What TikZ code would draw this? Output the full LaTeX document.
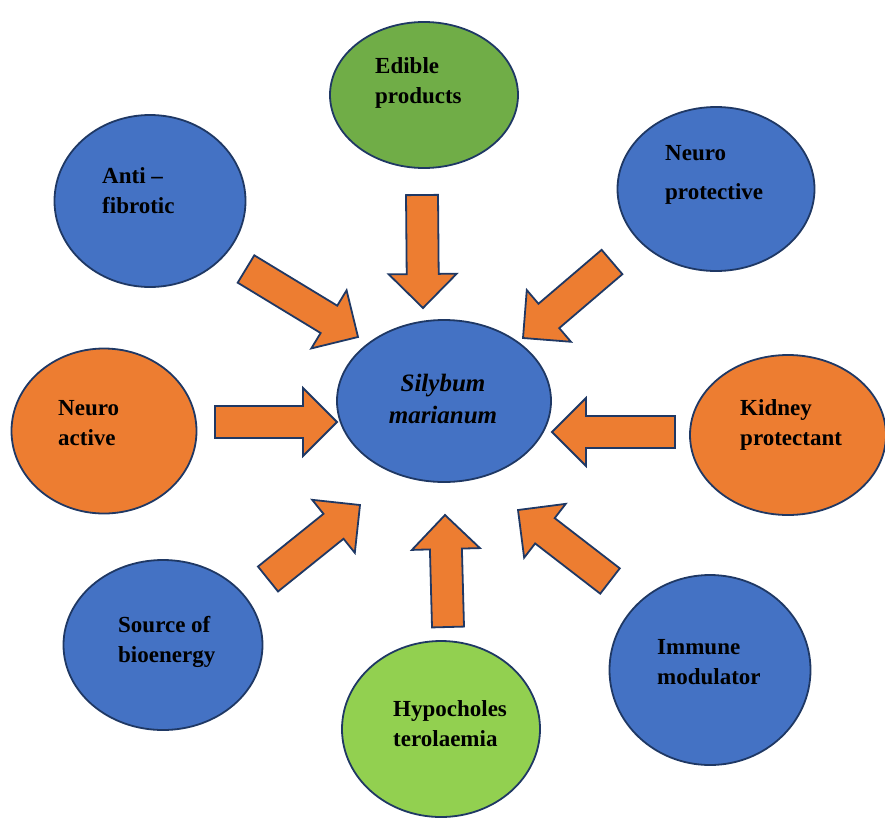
\documentclass[tikz,border=0pt]{standalone}
\usepackage{fontspec}
\setmainfont{Liberation Serif}
\usetikzlibrary{shapes.geometric,calc}
\definecolor{cblue}{HTML}{4472C4}
\definecolor{corange}{HTML}{ED7D31}
\definecolor{cgreen}{HTML}{70AD47}
\definecolor{clime}{HTML}{92D050}
\definecolor{cline}{HTML}{1F3864}
\tikzset{
  bubble/.style={ellipse, draw=cline, line width=1.8pt, inner sep=0pt},
  txt/.style={font=\fontsize{23}{30}\selectfont\bfseries, align=left, anchor=west, inner sep=0pt},
  fat/.style={draw=cline, fill=corange, line width=1.8pt, line join=miter},
}
% block arrow from tail #1 to tip #2
\newcommand\fatarrow[2]{%
  \coordinate (hb) at ($(#2)!34pt!(#1)$);
  \draw[fat] ($(#1)!16pt!90:(#2)$) -- ($(hb)!16pt!90:(#2)$) -- ($(hb)!34pt!90:(#2)$) -- (#2)
    -- ($(hb)!34pt!-90:(#2)$) -- ($(hb)!16pt!-90:(#2)$) -- ($(#1)!16pt!-90:(#2)$) -- cycle;}
\begin{document}
\begin{tikzpicture}[x=1pt,y=-1pt]
	\useasboundingbox (0,0) rectangle (885,819);
	% bubbles
	\node[bubble, fill=cblue, minimum width=214pt, minimum height=162pt] (sily) at (444,401) {};
	\node[bubble, fill=cgreen, minimum width=188pt, minimum height=146pt] (edible) at (424,95) {};
	\node[bubble, fill=cblue, minimum width=191pt, minimum height=172pt] (fibro) at (150,201) {};
	\node[bubble, fill=cblue, minimum width=197pt, minimum height=164pt] (nprot) at (716,189) {};
	\node[bubble, fill=corange, minimum width=185pt, minimum height=165pt] (nact) at (104,431) {};
	\node[bubble, fill=corange, minimum width=196pt, minimum height=160pt] (kidney) at (788,435) {};
	\node[bubble, fill=cblue, minimum width=199pt, minimum height=170pt] (bioen) at (163,645) {};
	\node[bubble, fill=clime, minimum width=198pt, minimum height=176pt] (hypo) at (441,729) {};
	\node[bubble, fill=cblue, minimum width=201pt, minimum height=190pt] (immune) at (710,670) {};
	% texts
	\node[font=\fontsize{25}{32}\selectfont\bfseries\itshape, align=center, inner sep=0pt] (tsily) at (443,399) {Silybum\\marianum};
	\node[txt] (tedible) at (375,83) {Edible\\products};
	\node[txt] (tfibro) at (102,191) {Anti –\\fibrotic};
	\node[txt] (tnprot) at (665,175) {Neuro\\[9pt]protective};
	\node[txt] (tnact) at (58,423) {Neuro\\active};
	\node[txt] (tkidney) at (740,425) {Kidney\\protectant};
	\node[txt] (tbioen) at (118,642) {Source of\\bioenergy};
	\node[txt] (thypo) at (393,724) {Hypocholes\\terolaemia};
	\node[txt] (timmune) at (657,662) {Immune\\modulator};
	% arrow ends
	\coordinate (t1) at (422,195); \coordinate (h1) at (423,308);
	\coordinate (t2) at (448,627); \coordinate (h2) at (445,515);
	\coordinate (t3) at (215,422); \coordinate (h3) at (337,422);
	\coordinate (t4) at (675,432); \coordinate (h4) at (552,432);
	\coordinate (t5) at (246,269); \coordinate (h5) at (358,337);
	\coordinate (t6) at (612,262); \coordinate (h6) at (523,338);
	\coordinate (t7) at (268,579); \coordinate (h7) at (360,505);
	\coordinate (t8) at (610,581); \coordinate (h8) at (518,510);
	\fatarrow{t1}{h1}
	\fatarrow{t2}{h2}
	\fatarrow{t3}{h3}
	\fatarrow{t4}{h4}
	\fatarrow{t5}{h5}
	\fatarrow{t6}{h6}
	\fatarrow{t7}{h7}
	\fatarrow{t8}{h8}
\end{tikzpicture}
\end{document}
